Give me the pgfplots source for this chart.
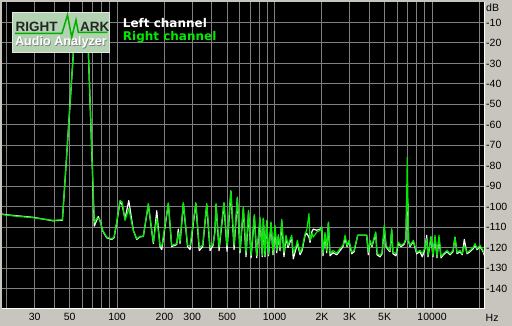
\documentclass[border=0pt]{standalone}
\usepackage{pgfplots}
\pgfplotsset{compat=1.18}
\usepackage{pgfplotstable}
\usepackage{fontspec}
\setmainfont{Liberation Sans}
\newfontfamily\dejavu{DejaVu Sans}
\definecolor{bggray}{RGB}{200,197,190}
\definecolor{gridgray}{RGB}{128,128,128}
\definecolor{sgreen}{RGB}{0,235,0}
\definecolor{logofill}{RGB}{178,210,178}
\definecolor{logogreen}{RGB}{0,175,0}

\pgfplotstableread{
f dB
18.6 -103.8
20.0 -104.2
29.3 -105.4
39.2 -106.7
45.0 -106.4
52.8 -25.0
55.7 -8.0
63.6 -8.0
65.8 -25.0
71.7 -107.7
74.6 -105.5
77.2 -105.9
81.1 -111.6
86.0 -114.9
92.5 -115.7
95.7 -114.9
99.5 -107.5
104.5 -96.9
107.6 -97.7
112.4 -106.7
118.7 -101.0
126.9 -111.6
133.4 -115.7
140.0 -114.5
146.9 -114.5
158.0 -98.5
166.1 -111.6
170.1 -117.3
178.7 -105.7
187.5 -118.9
192.3 -119.4
211.7 -98.2
222.3 -118.9
239.3 -118.1
244.9 -112.8
251.2 -117.3
263.6 -98.0
280.4 -118.9
290.8 -119.2
316.5 -98.0
332.6 -119.7
350.0 -118.9
371.1 -98.5
389.5 -119.8
407.0 -118.4
418.8 -112.4
425.2 -98.5
444.3 -119.7
477.5 -98.0
499.3 -119.2
528.0 -92.0
553.4 -118.9
580.7 -95.3
603.9 -121.4
633.8 -100.3
659.2 -122.8
683.9 -101.8
709.6 -123.8
744.7 -103.9
770.9 -123.8
809.0 -105.1
836.5 -123.8
849.2 -105.6
870.4 -123.8
892.3 -106.7
916.2 -123.3
950.6 -107.5
977.5 -122.4
1007 -109.1
1032 -121.4
1057 -113.7
1084 -120.4
1111 -106.2
1148 -122.4
1183 -114.0
1218 -118.9
1285 -114.0
1316 -122.8
1369 -119.4
1396 -116.5
1452 -122.4
1496 -120.4
1563 -113.2
1601 -111.6
1656 -103.4
1680 -116.5
1730 -113.1
1762 -114.9
1853 -112.4
1945 -111.6
1994 -110.0
2032 -122.8
2093 -112.6
2144 -121.4
2198 -107.5
2250 -123.0
2350 -121.4
2483 -122.8
2606 -120.4
2722 -118.9
2805 -114.0
2886 -118.9
2972 -116.5
3091 -122.2
3198 -121.4
3375 -114.0
3849 -114.0
3940 -122.2
4037 -116.5
4157 -118.9
4390 -112.4
4477 -122.8
4677 -123.8
4817 -122.4
4977 -109.1
5105 -118.9
5255 -120.4
5408 -121.4
5546 -110.8
5650 -122.4
5904 -122.8
6109 -117.3
6353 -118.9
6637 -117.9
6833 -115.5
6966 -76.0
7095 -116.5
7251 -118.9
7610 -116.5
7991 -122.2
8389 -121.4
8672 -123.0
9028 -119.9
9251 -115.7
9434 -123.8
9859 -114.5
10143 -123.8
10447 -114.0
10759 -124.3
11073 -114.0
11402 -124.3
11797 -123.0
12456 -121.4
13012 -123.0
13593 -121.4
13994 -114.9
14415 -122.4
15060 -121.4
15560 -123.0
16035 -118.9
16680 -122.4
17425 -121.4
18290 -119.8
18750 -118.1
19315 -120.4
20180 -118.9
21090 -121.4
21700 -123.8
}\rightdata

\pgfplotstableread{
f dB
18.6 -103.6
20.0 -104.0
29.3 -105.2
39.2 -106.9
45.0 -106.6
52.8 -25.0
55.7 -8.0
63.6 -8.0
65.8 -25.0
71.7 -109.5
76.0 -104.8
78.5 -107.5
81.1 -111.9
86.0 -115.2
92.5 -116.0
95.7 -115.2
99.5 -108.0
104.5 -97.5
107.6 -99.0
112.4 -106.0
118.7 -97.0
126.9 -111.6
133.4 -116.0
140.0 -114.8
146.9 -114.5
158.0 -99.0
166.1 -112.0
170.1 -118.0
178.7 -102.0
187.5 -119.5
192.3 -121.0
211.7 -98.5
222.3 -119.5
239.3 -118.5
244.9 -111.0
251.2 -118.0
263.6 -98.5
280.4 -119.5
290.8 -121.0
316.5 -98.5
332.6 -121.5
350.0 -119.5
371.1 -99.0
389.5 -121.5
407.0 -119.0
418.8 -111.5
425.2 -99.0
444.3 -121.5
477.5 -98.5
499.3 -121.8
528.0 -92.5
553.4 -121.0
580.7 -96.0
603.9 -122.5
633.8 -101.0
659.2 -124.5
683.9 -102.5
709.6 -125.0
744.7 -104.5
770.9 -125.0
809.0 -106.0
836.5 -124.5
849.2 -106.0
870.4 -124.5
892.3 -107.0
916.2 -124.0
950.6 -108.0
977.5 -123.5
1007 -110.0
1032 -122.5
1057 -114.5
1084 -121.5
1111 -107.0
1148 -124.5
1183 -115.0
1218 -120.0
1285 -115.0
1316 -125.5
1369 -120.5
1396 -117.5
1452 -123.5
1496 -121.5
1563 -114.0
1601 -113.0
1656 -115.0
1680 -117.5
1730 -112.0
1762 -111.0
1853 -111.5
1945 -111.0
1994 -110.0
2032 -124.0
2093 -113.5
2144 -122.5
2198 -108.0
2250 -124.0
2350 -122.5
2483 -123.5
2606 -121.5
2722 -119.5
2805 -115.5
2886 -119.5
2972 -117.0
3091 -123.0
3198 -122.0
3375 -114.0
3849 -114.0
3940 -123.5
4037 -117.0
4157 -119.5
4390 -113.0
4477 -123.5
4677 -124.5
4817 -123.0
4977 -110.0
5105 -119.5
5255 -121.0
5408 -122.0
5546 -111.5
5650 -123.0
5904 -124.0
6109 -118.0
6353 -119.5
6637 -118.5
6833 -116.0
6900 -98.5
7030 -98.5
7095 -117.0
7251 -119.5
7610 -117.0
7991 -123.0
8389 -122.0
8672 -124.5
9028 -120.5
9251 -114.0
9434 -124.5
9859 -115.0
10143 -124.5
10447 -115.0
10759 -125.0
11073 -115.0
11402 -125.0
11797 -123.5
12456 -122.0
13012 -123.5
13593 -122.0
13994 -114.9
14415 -123.0
15060 -122.0
15560 -123.5
16035 -116.0
16680 -123.0
17425 -122.0
18290 -120.5
18750 -118.5
19315 -121.0
20180 -119.5
21090 -122.0
21700 -124.5
}\leftdata

\begin{document}
\begin{tikzpicture}[x=1pt,y=1pt]
\fill[bggray] (0,0) rectangle (512,326);
\begin{axis}[
  at={(2pt,17pt)}, anchor=south west,
  scale only axis, width=483pt, height=307pt,
  xmode=log, xmin=18.6, xmax=21700, ymin=-150, ymax=0,
  axis background/.style={fill=black},
  axis line style={draw=none},
  grid=major, major grid style={gridgray, line width=1pt},
  xtick={20,30,40,50,60,70,80,90,100,200,300,400,500,600,700,800,900,1000,2000,3000,4000,5000,6000,7000,8000,9000,10000,20000},
  xticklabels={,30,,50,,,,,100,200,300,,500,,,,,1000,2K,3K,,5K,,,,,10000,},
  ytick={-140,-130,-120,-110,-100,-90,-80,-70,-60,-50,-40,-30,-20,-10},
  yticklabels={-140,-130,-120,-110,-100,-90,-80,-70,-60,-50,-40,-30,-20,-10},
  yticklabel pos=right,
  major tick length=0pt,
  tick label style={font=\fontsize{10.5}{12}\selectfont, text=black},
  xticklabel style={anchor=north, inner sep=0pt, yshift=-4pt},
  yticklabel style={anchor=west, inner sep=0pt, xshift=1pt},
]
\addplot[white, line width=1.2pt, line join=round] table[x=f, y=dB] {\leftdata};
\addplot[sgreen, line width=1.2pt, line join=round] table[x=f, y=dB] {\rightdata};
\end{axis}
\draw[white, line width=1pt] (2,17.5) -- (484.5,17.5) -- (484.5,324);
% units
\node[anchor=west, inner sep=0pt, font=\fontsize{10.5}{12}\selectfont] at (486,318.5) {dB};
\node[anchor=west, inner sep=0pt, font=\fontsize{10.5}{12}\selectfont] at (485.5,8) {Hz};
% logo
\fill[logofill] (12.3,273.7) rectangle (109,313.7);
\draw[white!80!gray, line width=1pt] (12.3,273.7) rectangle (109,313.7);
\draw[logogreen, line width=1.5pt, line join=miter] (15,292.7) -- (62,292.7) -- (67.5,311) -- (71.7,288.7) -- (76,306) -- (78.3,293.7) -- (107.3,293.7);
\node[anchor=base west, inner sep=0pt, font=\bfseries\fontsize{13.5}{15}\selectfont, text=black!85] at (15.5,294) {RIGHT};
\node[anchor=base west, inner sep=0pt, font=\bfseries\fontsize{13.5}{15}\selectfont, text=black!85] at (80,294) {ARK};
\node[anchor=base, inner sep=0pt, font=\bfseries\fontsize{12.6}{14}\selectfont, text=gray] at (61.7,279.3) {Audio Analyzer};
\node[anchor=base, inner sep=0pt, font=\bfseries\fontsize{12.6}{14}\selectfont, text=white] at (61,280) {Audio Analyzer};
% legend
\node[anchor=base west, inner sep=0pt, font=\dejavu\bfseries\fontsize{12}{14}\selectfont, text=white] at (122.7,298.7) {Left channel};
\node[anchor=base west, inner sep=0pt, font=\dejavu\bfseries\fontsize{12}{14}\selectfont, text=sgreen] at (122.7,285.3) {Right channel};
\end{tikzpicture}
\end{document}
